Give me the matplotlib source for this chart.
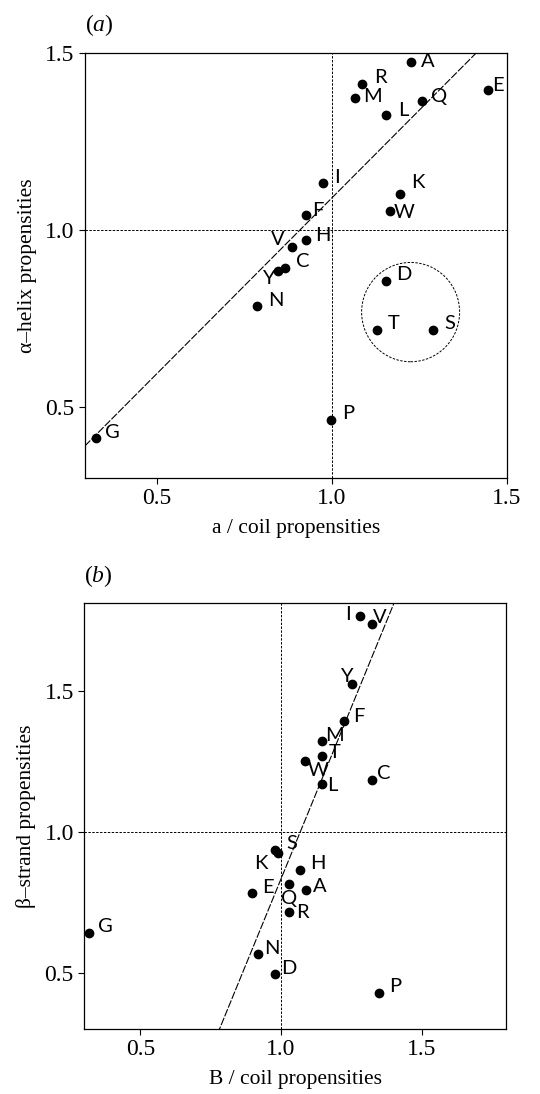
"""
Propensity scatter plots: alpha-helix / coil (a) and beta-strand / coil (b).
"""

import matplotlib
matplotlib.use("Agg")
import matplotlib.pyplot as plt
from matplotlib.patches import Ellipse

plt.rcParams["mathtext.fontset"] = "custom"
plt.rcParams["mathtext.it"] = "Liberation Serif:italic"
plt.rcParams["mathtext.rm"] = "Liberation Serif"

# (a) alpha-helix vs a/coil
A_RES = ["A", "R", "M", "L", "Q", "E", "I", "K", "W", "F", "H", "V",
         "C", "Y", "N", "G", "P", "D", "T", "S"]
A_X = [1.226, 1.087, 1.066, 1.156, 1.258, 1.447, 0.975, 1.197, 1.168, 0.926,
       0.926, 0.887, 0.868, 0.847, 0.786, 0.326, 0.999, 1.157, 1.129, 1.289]
A_Y = [1.473, 1.412, 1.371, 1.323, 1.363, 1.393, 1.132, 1.102, 1.053, 1.041,
       0.972, 0.952, 0.893, 0.883, 0.785, 0.412, 0.463, 0.855, 0.717, 0.717]
# label offsets (pixels)
A_OFF = [(17, 1), (18, 6), (18, 2), (17, 5), (17, 5), (10, 5), (14, 6),
         (17, 11), (14, -1), (12, 5), (17, 4), (-14, 7), (17, 6), (-10, -7),
         (19, 6), (17, 6), (17, 7), (17, 7), (17, 7), (17, 7)]
A_FIT = (0.991, 0.098)          # slope, intercept
A_CIRCLE = (1.226, 0.768, 0.28)  # centre x, centre y, diameter

# (b) beta-strand vs B/coil
B_RES = ["I", "V", "Y", "F", "M", "T", "W", "L", "C", "S", "K", "H",
         "E", "A", "Q", "R", "G", "N", "D", "P"]
B_X = [1.281, 1.322, 1.253, 1.224, 1.145, 1.145, 1.084, 1.145, 1.325, 0.977,
       0.989, 1.069, 0.898, 1.089, 1.028, 1.030, 0.316, 0.919, 0.977, 1.348]
B_Y = [1.767, 1.737, 1.523, 1.392, 1.321, 1.270, 1.251, 1.169, 1.184, 0.934,
       0.925, 0.865, 0.782, 0.794, 0.813, 0.714, 0.640, 0.565, 0.496, 0.427]
B_OFF = [(-12, 1), (8, 7), (-6, 8), (15, 5), (13, 6), (13, 3), (13, -10),
         (10, -1), (11, 6), (17, 7), (-17, -11), (17, 6), (16, 6), (14, 3),
         (0, -14), (13, 0), (17, 7), (14, 6), (14, 5), (16, 7)]
B_FIT = (2.435, -1.602)


def setup(ax, xlim, ylim, xlabel, ylabel, tag):
    ax.set_xlim(*xlim)
    ax.set_ylim(*ylim)
    ax.set_xticks([0.5, 1.0, 1.5])
    ax.set_yticks([0.5, 1.0, 1.5])
    ax.tick_params(direction="out", length=4, width=0.8, labelsize=17)
    for lab in ax.get_xticklabels() + ax.get_yticklabels():
        lab.set_family("Liberation Serif")
    for sp in ax.spines.values():
        sp.set_linewidth(0.9)
    ax.set_xlabel(xlabel, family="Liberation Serif", fontsize=15.5, labelpad=7)
    ax.set_ylabel(ylabel, family="Liberation Serif", fontsize=15.5, labelpad=6)
    ax.text(0.0, 1.065, "($" + tag + "$)", transform=ax.transAxes,
            family="Liberation Serif", fontsize=17, ha="left", va="center")
    ax.axvline(1.0, color="black", lw=0.7, ls=(0, (2.5, 1.5)))
    ax.axhline(1.0, color="black", lw=0.7, ls=(0, (2.5, 1.5)))


def draw(ax, res, xs, ys, offs, fit, xlim):
    ax.scatter(xs, ys, s=36, color="black", zorder=3)
    for r, x, y, (dx, dy) in zip(res, xs, ys, offs):
        ax.annotate(r, (x, y), xytext=(dx, dy), textcoords="offset pixels",
                    ha="center", va="center", fontsize=14.5, family="Lato")
    k, b = fit
    ax.plot(list(xlim), [k * xlim[0] + b, k * xlim[1] + b], color="black",
            lw=0.8, ls=(0, (7, 1.5)))


fig = plt.figure(figsize=(5.4, 10.94), dpi=100)

ax1 = fig.add_axes([0.157, 0.563, 0.781, 0.389])
xa, ya = (0.295, 1.5), (0.3, 1.5)
setup(ax1, xa, ya, "a / coil propensities", "\u03b1\u2013helix propensities", "a")
draw(ax1, A_RES, A_X, A_Y, A_OFF, A_FIT, xa)
cx, cy, d = A_CIRCLE
ax1.add_patch(Ellipse((cx, cy), d, d, fill=False, color="black", lw=0.7,
                      ls=(0, (2.5, 1.5))))

ax2 = fig.add_axes([0.156, 0.0594, 0.781, 0.389])
xb, yb = (0.3, 1.8), (0.3, 1.81)
setup(ax2, xb, yb, "B / coil propensities", "\u03b2\u2013strand propensities", "b")
draw(ax2, B_RES, B_X, B_Y, B_OFF, B_FIT, xb)

fig.savefig("out.png", dpi=100)
